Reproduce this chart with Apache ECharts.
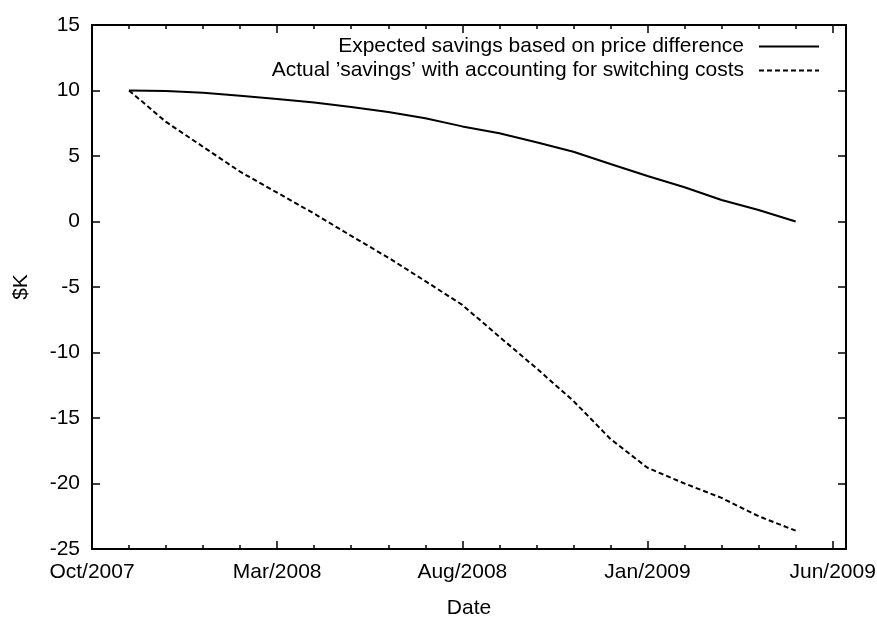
<!DOCTYPE html>
<html>
<head>
<meta charset="utf-8">
<script src="https://cdn.jsdelivr.net/npm/echarts@6/dist/echarts.min.js"></script>
<style>
  html, body { margin: 0; padding: 0; background: #fff; }
  #chart { width: 877px; height: 617px; }
</style>
</head>
<body>
<div id="chart"></div>
<script>
  // monthly points, year-month
  var months = ['2007-11','2007-12','2008-01','2008-02','2008-03','2008-04','2008-05','2008-06','2008-07','2008-08',
                '2008-09','2008-10','2008-11','2008-12','2009-01','2009-02','2009-03','2009-04','2009-05'];
  var expected = [10, 9.96, 9.82, 9.6, 9.35, 9.08, 8.74, 8.36, 7.88, 7.26, 6.73, 6.05, 5.33, 4.39, 3.47, 2.61, 1.64, 0.88, 0];
  var actual = [10, 7.6, 5.7, 3.8, 2.2, 0.6, -1.1, -2.76, -4.55, -6.37, -8.8, -11.2, -13.7, -16.6, -18.8, -20.0, -21.1, -22.5, -23.6];

  var tickLabels = ['Oct/2007', 'Mar/2008', 'Aug/2008', 'Jan/2009', 'Jun/2009'];
  var tickMonths = [0, 5, 10, 15, 20];
  var minorMonths = [];
  for (var i = 1; i < 20; i++) minorMonths.push(i);

  var nameExp = 'Expected savings based on price difference';
  var nameAct = 'Actual \u2019savings\u2019 with accounting for switching costs';

  // months since Oct/2007
  function offset(s) {
    var p = s.split('-');
    return (+p[0] - 2007) * 12 + (+p[1] - 10);
  }

  var font = "'Liberation Sans', Arial, sans-serif";
  var xMax = 20.36;

  var myChart = echarts.init(document.getElementById('chart'));

  function xAx(pos, ticks, len, line, labels) {
    return {
      type: 'value',
      position: pos,
      min: 0,
      max: xMax,
      interval: 5,
      axisLine: { show: line, onZero: false, lineStyle: { color: '#000', width: 2 } },
      axisTick: { show: true, inside: true, length: len, customValues: ticks, lineStyle: { color: '#000', width: 1.5 } },
      axisLabel: labels ? {
        show: true, customValues: tickMonths, margin: 13,
        color: '#000', fontSize: 21, fontFamily: font,
        formatter: function (v) { return tickLabels[tickMonths.indexOf(v)] || ''; }
      } : { show: false },
      splitLine: { show: false }
    };
  }

  var xAxes = [
    xAx('bottom', tickMonths, 8, true, true),
    xAx('bottom', minorMonths, 4, false, false),
    xAx('top', tickMonths, 8, true, false),
    xAx('top', minorMonths, 4, false, false)
  ];
  xAxes[0].name = 'Date';
  xAxes[0].nameLocation = 'middle';
  xAxes[0].nameGap = 49;
  xAxes[0].nameTextStyle = { color: '#000', fontSize: 21, fontFamily: font };

  var yBase = {
    type: 'value',
    min: -25,
    max: 15,
    interval: 5,
    axisLine: { show: true, onZero: false, lineStyle: { color: '#000', width: 2 } },
    axisTick: { show: true, inside: true, length: 8, lineStyle: { color: '#000', width: 1.5 } },
    splitLine: { show: false }
  };

  var legendBase = {
    right: 57, padding: 0,
    orient: 'vertical', align: 'right',
    itemWidth: 60, itemHeight: 14,
    itemStyle: { opacity: 0 },
    textStyle: { color: '#000', fontSize: 21, fontFamily: font, padding: [0, 10, 0, 0] }
  };

  myChart.setOption({
    animation: false,
    backgroundColor: '#fff',
    grid: { left: 92, right: 31, top: 25, bottom: 68, outerBoundsMode: 'none' },
    legend: [
      Object.assign({}, legendBase, { data: [nameExp], top: 36 }),
      Object.assign({}, legendBase, { data: [nameAct], top: 60 })
    ],
    xAxis: xAxes,
    yAxis: [
      Object.assign({}, yBase, {
        position: 'left',
        name: '$K',
        nameLocation: 'middle',
        nameGap: 60,
        nameTextStyle: { color: '#000', fontSize: 21, fontFamily: font },
        axisLabel: { color: '#000', fontSize: 21, fontFamily: font, margin: 12 }
      }),
      Object.assign({}, yBase, { position: 'right', axisLabel: { show: false } })
    ],
    series: [{
      name: nameExp,
      type: 'line',
      symbol: 'none',
      data: months.map(function (m, i) { return [offset(m), expected[i]]; }),
      lineStyle: { color: '#000', width: 2, type: 'solid' },
      itemStyle: { color: '#000' }
    }, {
      name: nameAct,
      type: 'line',
      symbol: 'none',
      data: months.map(function (m, i) { return [offset(m), actual[i]]; }),
      lineStyle: { color: '#000', width: 2, type: [5, 3] },
      itemStyle: { color: '#000' }
    }]
  });
  window.onresize = myChart.resize;
</script>
</body>
</html>
